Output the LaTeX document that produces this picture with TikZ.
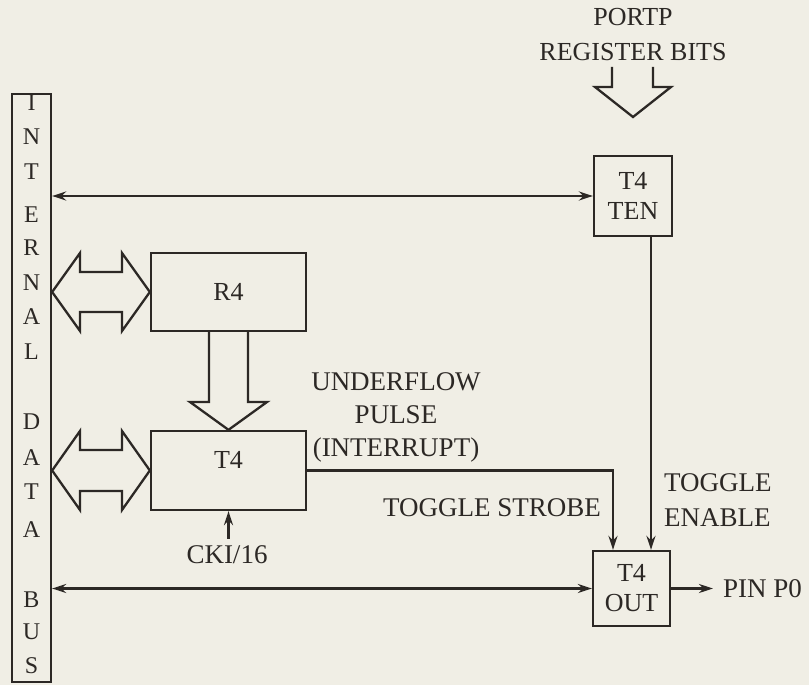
\documentclass[tikz,border=0pt]{standalone}
\usepackage{fontspec}
\setmainfont{Liberation Serif}
\usetikzlibrary{arrows.meta,calc}
\definecolor{ink}{RGB}{44,40,37}
\definecolor{paper}{RGB}{240,238,229}
\begin{document}
\begin{tikzpicture}[x=1pt,y=-1pt,color=ink,line width=2.3pt,
  box/.style={draw,line width=2.3pt,inner sep=0pt,align=center,font=\fontsize{26}{30}\selectfont},
  lbl/.style={inner sep=0pt,align=center,font=\fontsize{27}{33}\selectfont},
  buslbl/.style={inner sep=0pt,font=\fontsize{24}{28}\selectfont},
  arr/.style={-{Stealth[length=14pt,width=9pt]}},
  darr/.style={{Stealth[length=14pt,width=9pt]}-{Stealth[length=14pt,width=9pt]}},
  hollow/.style={line width=2.3pt,line join=miter}]
\fill[paper] (0,0) rectangle (809,685);
\useasboundingbox (0,0) rectangle (809,685);

% internal data bus
\node[box,minimum width=39pt,minimum height=588pt] (bus) at (31.5,388) {};
\foreach \L/\yy [count=\i] in {I/103,N/137,T/172,E/215,R/248,N/283,A/317,L/352,D/422,A/458,T/492,A/530,B/600,U/632,S/666}
  \node[buslbl] (bl\i) at (31.5,\yy) {\L};

% boxes
\node[box,minimum width=78pt,minimum height=80pt] (ten) at (633,196) {T4\\TEN};
\node[box,minimum width=77pt,minimum height=75pt] (out) at (631.5,588.5) {T4\\OUT};
\node[box,minimum width=155pt,minimum height=78pt] (r4) at (228.5,292) {R4};
\node[box,minimum width=155pt,minimum height=79pt,text height=17pt,text depth=21pt] (t4) at (228.5,470.5) {T4};

% labels
\node[lbl,font=\fontsize{26}{35}\selectfont] (portp) at (633,35) {PORTP\\REGISTER BITS};
\node[lbl] (uf) at (396,417) {UNDERFLOW\\PULSE\\(INTERRUPT)};
\node[lbl] (strobe) at (492,508) {TOGGLE STROBE};
\node[lbl,anchor=west,align=left,font=\fontsize{27}{35}\selectfont] (enable) at (663,500) {TOGGLE\\ENABLE};
\node[lbl] (cki) at (227,555) {CKI/16};
\node[lbl,anchor=west] (pin) at (722,588.5) {PIN P0};

% hollow arrows
\draw[hollow] (612,67) -- (612,87) -- (595,87) -- (633,117) -- (671,87) -- (653,87) -- (653,67);
\draw[hollow] (209,331) -- (209,402) -- (190,402) -- (t4.north) -- (267,402) -- (248,402) -- (248,331);
\draw[hollow] (bus.east |- r4.west) -- (80,253) -- (80,272) -- (122,272) -- (122,253) -- (r4.west)
  -- (122,331) -- (122,312) -- (80,312) -- (80,331) -- cycle;
\draw[hollow] (bus.east |- t4.west) -- (80,431) -- (80,450) -- (122,450) -- (122,431) -- (t4.west)
  -- (122,510) -- (122,491) -- (80,491) -- (80,510) -- cycle;

% connectors
\draw[darr] (bus.east |- ten.west) -- (ten.west);
\draw[darr] (bus.east |- out.west) -- (out.west);
\draw[arr] ([xshift=18pt]ten.south) -- ([xshift=18pt]ten.south |- out.north);
\draw[arr] (t4.east) -| ([xshift=-18.5pt]out.north);
\draw[arr,shorten >=9pt] (out.east) -- (pin.west);
\draw[arr,shorten <=6pt] (t4.south |- cki.north) -- (t4.south);
\end{tikzpicture}
\end{document}
